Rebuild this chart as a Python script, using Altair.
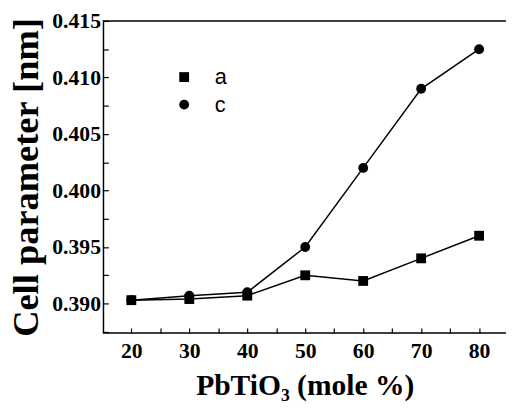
import altair as alt
import pandas as pd

x_vals = [20, 30, 40, 50, 60, 70, 80]
a_vals = [0.3903, 0.3904, 0.3907, 0.3925, 0.3920, 0.3940, 0.3960]
c_vals = [0.3903, 0.3907, 0.3910, 0.3950, 0.4020, 0.4090, 0.4125]
series_names = ["a", "c"]

x_ticks = [20, 25, 30, 35, 40, 45, 50, 55, 60, 65, 70, 75, 80]
y_ticks = [0.3875, 0.390, 0.3925, 0.395, 0.3975, 0.400, 0.4025, 0.405,
           0.4075, 0.410, 0.4125, 0.415]

rows = []
for s, vals in zip(series_names, [a_vals, c_vals]):
    for xv, yv in zip(x_vals, vals):
        rows.append({"x": xv, "y": yv, "series": s})
df = pd.DataFrame(rows)

W, H = 409, 317
XDOM = [15.19, 84.64]
YDOM = [0.3874, 0.415]
SERIF = "Liberation Serif"

x_axis = alt.Axis(
    values=x_ticks, labelExpr="datum.value % 10 == 0 ? datum.label : ''",
    offset=-5, tickSize=5, tickWidth=1.2, tickColor="black", domain=False,
    grid=False, labelPadding=8, labelFont=SERIF, labelFontWeight="bold",
    labelFontSize=22, labelColor="black",
    title="PbTiO₃ (mole %)", titleFont=SERIF, titleFontWeight="bold",
    titleFontSize=30, titleColor="black", titlePadding=10,
)
y_axis = alt.Axis(
    values=y_ticks,
    labelExpr="round(datum.value*10000) % 50 == 0 ? format(datum.value, '.3f') : ''",
    offset=-5, tickSize=5, tickWidth=1.2, tickColor="black", domain=False,
    grid=False, labelPadding=3, labelFont=SERIF, labelFontWeight="bold",
    labelFontSize=22, labelColor="black", labelFlush=False, labelBound=False,
    title="Cell parameter [nm]", titleFont=SERIF, titleFontWeight="bold",
    titleFontSize=37, titleColor="black", titlePadding=7,
)

X = alt.X("x:Q", scale=alt.Scale(domain=XDOM, nice=False, zero=False), axis=x_axis)
Y = alt.Y("y:Q", scale=alt.Scale(domain=YDOM, nice=False, zero=False), axis=y_axis)

base = alt.Chart(df)

lines = base.mark_line(color="black", strokeWidth=1.5).encode(
    x=X, y=Y, detail="series:N"
)
points_a = base.transform_filter("datum.series == 'a'").mark_point(
    filled=True, color="black", opacity=1, size=100, shape="square"
).encode(x=X, y=Y)
points_c = base.transform_filter("datum.series == 'c'").mark_point(
    filled=True, color="black", opacity=1, size=100, shape="circle"
).encode(x=X, y=Y)

legend_layer = base.transform_filter("false").mark_point(
    filled=True, color="black", opacity=1
).encode(
    x=X, y=Y,
    shape=alt.Shape("series:N", scale=alt.Scale(domain=series_names,
                                                range=["square", "circle"]),
                    legend=alt.Legend(
                        title=None, orient="none", legendX=71, legendY=46,
                        symbolSize=100, symbolOpacity=1,
                        symbolFillColor="black", labelOffset=20,
                        labelFont="Liberation Sans", labelFontSize=22,
                        labelColor="black", rowPadding=6, padding=0,
                    )),
)

frame = alt.Chart(pd.DataFrame({"k": [0]})).mark_rect(
    filled=False, stroke="black", strokeWidth=1.5
).encode(x=alt.value(0), x2=alt.value(W + 6), y=alt.value(0), y2=alt.value(H))

chart = alt.layer(lines, points_a, points_c, legend_layer, frame).properties(
    width=W, height=H,
    padding={"left": 97, "top": 10, "right": 0, "bottom": 68},
    autosize=alt.AutoSizeParams(type="none"),
).configure_view(stroke=None)

chart.save("out.html", embed_options={"renderer": "svg", "actions": False})
